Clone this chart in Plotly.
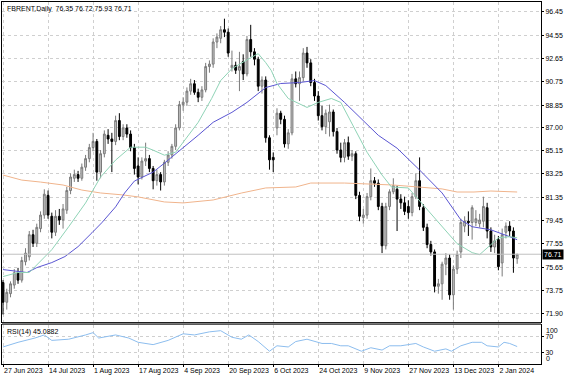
import plotly.graph_objects as go

# ---------------- data ----------------
date_tick_idx = [0, 12, 24, 36, 48, 60, 72, 84, 96, 108, 120, 132]
date_tick_text = ["27 Jun 2023", "14 Jul 2023", "1 Aug 2023", "17 Aug 2023", "4 Sep 2023",
                  "20 Sep 2023", "6 Oct 2023", "24 Oct 2023", "9 Nov 2023", "27 Nov 2023",
                  "13 Dec 2023", "2 Jan 2024"]

price_ticks = [96.45, 94.55, 92.65, 90.75, 88.85, 87.00, 85.15, 83.25, 81.35, 79.45,
               77.55, 75.65, 73.75, 71.90]

opens = [74.4, 72.8, 73.5, 74.2, 75.2, 74.6, 76.1, 76.5, 78.3, 77.6,
         78.8, 79.9, 81.5, 79.8, 78.5, 79.8, 79.5, 80.3, 81.9, 82.9,
         83.2, 82.9, 83.8, 84.5, 85.4, 85.9, 83.4, 84.9, 86.4, 86.1,
         85.9, 87.6, 86.3, 87.0, 86.5, 85.4, 83.9, 83.0, 84.3, 84.5,
         83.7, 82.7, 83.2, 82.6, 84.2, 84.8, 85.5, 87.0, 88.9, 89.1,
         90.0, 90.6, 89.9, 89.5, 90.1, 92.0, 92.2, 94.0, 94.3, 95.0,
         94.8, 91.9, 92.1, 91.7, 92.4, 91.4, 94.2, 93.2, 92.6, 90.4,
         90.9, 86.2, 84.6, 87.0, 88.2, 87.7, 85.7, 86.6, 91.0, 90.6,
         91.1, 93.1, 92.3, 90.7, 89.6, 88.0, 87.1, 87.5, 88.3, 86.7,
         85.2, 84.6, 85.8, 84.7, 84.9, 81.5, 79.7, 79.9, 81.4, 82.7,
         82.5, 80.6, 77.4, 80.6, 81.8, 82.0, 81.2, 80.9, 80.6, 80.1,
         81.4, 82.7, 80.5, 78.9, 77.5, 76.9, 74.1, 74.3, 75.9, 76.4,
         73.4, 75.5, 76.9, 79.0, 79.4, 79.3, 79.3, 79.2, 79.4, 80.5,
         78.6, 77.3, 77.9, 76.0, 78.5, 79.0, 78.6, 76.35]
highs = [74.6, 73.9, 74.5, 75.5, 75.6, 76.5, 77.2, 78.6, 78.7, 79.2,
         80.2, 82.0, 81.9, 80.1, 80.3, 80.4, 80.8, 82.2, 83.3, 83.6,
         83.5, 84.1, 84.8, 85.7, 86.6, 86.1, 85.2, 86.8, 86.9, 86.6,
         88.0, 88.2, 87.3, 87.3, 86.8, 85.7, 84.6, 84.6, 85.8, 84.8,
         83.9, 83.6, 83.4, 84.4, 85.1, 85.7, 87.3, 89.2, 89.5, 90.3,
         91.0, 90.9, 90.2, 90.4, 92.3, 92.5, 94.3, 94.7, 95.3, 95.9,
         95.1, 93.3, 92.4, 93.2, 93.0, 94.5, 95.4, 93.5, 92.8, 91.2,
         91.2, 86.4, 85.0, 88.6, 88.4, 88.0, 86.9, 91.4, 91.6, 91.6,
         93.5, 93.6, 92.6, 91.0, 90.0, 88.8, 88.5, 88.9, 88.5, 87.0,
         85.8, 86.1, 86.3, 85.2, 85.1, 81.8, 80.4, 81.7, 83.7, 83.0,
         82.8, 80.9, 80.9, 82.0, 82.9, 82.3, 81.6, 81.4, 81.1, 81.7,
         83.3, 84.6, 80.8, 79.2, 77.8, 77.1, 74.7, 76.1, 76.8, 76.7,
         75.8, 77.0, 79.6, 79.8, 80.2, 80.7, 80.3, 80.0, 81.4, 80.9,
         78.9, 78.3, 78.2, 78.8, 79.3, 79.4, 78.9, 76.72]
lows = [71.8, 72.2, 73.2, 73.9, 74.3, 74.4, 75.8, 76.2, 77.3, 77.3,
        78.5, 79.6, 79.6, 78.0, 78.2, 79.1, 78.8, 80.0, 81.6, 82.6,
        82.6, 82.7, 83.5, 84.2, 85.1, 82.7, 82.9, 84.6, 85.7, 83.4,
        85.6, 86.0, 86.0, 86.2, 85.1, 83.2, 82.4, 82.8, 83.9, 83.4,
        82.0, 82.3, 81.9, 82.3, 83.9, 84.5, 85.2, 86.8, 88.4, 88.8,
        89.7, 89.7, 89.1, 89.2, 89.9, 91.5, 91.9, 93.5, 93.9, 94.4,
        92.8, 91.6, 91.4, 90.0, 90.9, 91.2, 92.8, 92.1, 90.0, 89.8,
        85.8, 83.6, 83.4, 86.4, 87.3, 85.4, 85.3, 86.4, 90.3, 89.2,
        90.8, 91.9, 90.4, 89.2, 87.6, 86.8, 86.5, 86.3, 86.3, 84.9,
        84.2, 84.2, 84.4, 84.3, 81.2, 79.4, 79.2, 79.6, 81.1, 82.2,
        80.3, 76.8, 77.1, 80.3, 81.6, 78.6, 80.4, 79.9, 79.6, 79.8,
        81.2, 80.3, 78.6, 77.2, 76.6, 73.6, 73.5, 73.0, 75.0, 73.0,
        72.2, 75.1, 76.4, 78.5, 78.2, 77.9, 79.0, 78.9, 78.9, 78.0,
        76.9, 76.8, 75.4, 74.9, 78.0, 78.2, 75.2, 75.93]
closes = [72.8, 73.6, 74.3, 75.2, 74.6, 76.2, 76.8, 78.3, 77.6, 78.9,
          79.9, 81.6, 79.9, 78.5, 79.8, 79.5, 80.4, 81.9, 83.0, 83.2,
          82.9, 83.8, 84.5, 85.4, 85.9, 83.4, 84.9, 86.5, 86.1, 85.9,
          87.6, 86.3, 87.0, 86.5, 85.4, 83.7, 83.0, 84.3, 84.5, 83.7,
          82.7, 83.2, 82.6, 84.2, 84.8, 85.5, 87.0, 88.9, 89.1, 90.0,
          90.6, 89.9, 89.5, 90.1, 92.0, 92.2, 94.0, 94.4, 95.0, 94.8,
          93.1, 92.1, 91.7, 92.0, 91.4, 94.2, 93.2, 92.6, 90.4, 90.9,
          86.2, 84.4, 84.4, 88.2, 87.7, 85.7, 86.6, 91.0, 90.6, 91.1,
          93.1, 92.3, 90.7, 89.6, 88.0, 87.1, 88.2, 88.3, 86.7, 85.2,
          84.6, 85.8, 84.7, 84.9, 81.5, 79.8, 79.9, 81.4, 82.7, 82.5,
          80.6, 77.4, 80.6, 81.8, 82.3, 81.2, 80.9, 80.2, 80.1, 81.4,
          82.7, 80.6, 78.9, 77.5, 76.9, 74.1, 74.3, 75.9, 76.4, 73.4,
          75.5, 76.7, 79.3, 79.4, 79.3, 80.5, 79.6, 79.5, 80.6, 78.6,
          77.3, 77.8, 75.7, 78.3, 79.0, 78.6, 76.4, 76.71]

# moving averages (bar index, price)
ma_fast_idx = [0, 4, 7, 9.6, 13, 17.5, 22, 26, 30, 34, 38, 40, 43, 46, 48, 52, 55.6, 58, 61,
               63.6, 66, 68, 70, 71.5, 73, 76, 79, 81, 84, 87.5, 90, 93.6, 97, 101, 103.5,
               108, 112, 117, 121, 125, 127, 130, 132, 135, 137]
ma_fast_val = [74.89, 75.22, 75.22, 76.03, 77.08, 78.95, 80.89, 83.0, 84.38, 85.43, 85.43,
               85.19, 84.78, 85.02, 85.83, 87.45, 89.40, 90.86, 91.83, 92.32, 92.72, 93.05,
               92.32, 91.67, 90.62, 89.40, 88.99, 88.67, 89.08, 89.40, 89.08, 86.97, 85.02,
               83.16, 82.19, 82.11, 80.73, 78.95, 77.57, 76.84, 76.68, 77.49, 78.05, 78.14,
               78.05]
ma_slow_idx = [0, 6.4, 9, 13, 16.5, 20, 23.7, 26.3, 30, 32.4, 35, 40, 43, 48, 52, 56, 61,
               65, 70, 74, 79, 83, 86, 91, 95.5, 100, 105, 111, 117, 122, 125, 130, 135, 137]
ma_slow_val = [75.46, 75.22, 75.62, 76.03, 76.52, 77.33, 78.46, 79.27, 80.57, 81.70, 82.67,
               83.40, 84.13, 85.35, 86.40, 87.46, 88.27, 89.08, 90.29, 90.62, 90.70, 90.86,
               90.45, 89.08, 87.78, 86.40, 85.35, 83.57, 81.70, 79.51, 78.95, 78.70, 78.14,
               77.89]
ma_long_idx = [0, 5, 10, 16, 21, 26, 32, 36, 43, 48, 56, 63.6, 70, 78, 82, 91, 104, 110.6,
               117, 121, 125.5, 130, 137]
ma_long_val = [83.16, 82.75, 82.59, 82.35, 81.94, 81.70, 81.54, 81.38, 80.97, 80.89, 81.13,
               81.70, 82.11, 82.19, 82.51, 82.51, 82.35, 82.19, 82.03, 81.78, 81.78, 81.86,
               81.78]

rsi_idx = [0, 4, 8.5, 11, 13, 17.5, 22, 24, 25.5, 30, 33.5, 36, 40, 44, 48, 51, 55, 58, 61,
           63.5, 65.5, 68, 71, 73, 76, 78, 81, 83, 85, 87.5, 90, 92, 95.5, 98, 101, 103, 106,
           110, 112, 115, 118, 119.5, 122, 125, 127.5, 129, 132, 133.5, 135, 137]
rsi_val = [44, 56, 67, 75, 61, 64, 75, 81, 67, 75, 67, 56, 50, 61, 78, 75, 83, 86, 69, 64,
           75, 58, 33, 47, 44, 58, 64, 58, 53, 53, 47, 47, 33, 42, 36, 47, 47, 53, 44, 33,
           39, 33, 47, 56, 56, 47, 44, 56, 53, 45.09]

last_price = closes[-1]
title_text = "FBRENT,Daily&nbsp;&nbsp;76.35 76.72 75.93 76.71"
rsi_text = "RSI(14) 45.0882"

# ---------------- figure ----------------
FONT = "Liberation Sans"
GRID = "#cfcfcf"
x = list(range(len(closes)))

fig = go.Figure()
fig.add_trace(go.Scatter(x=ma_long_idx, y=ma_long_val, mode="lines",
                         line=dict(color="#f0b48c", width=1), hoverinfo="skip", showlegend=False))
fig.add_trace(go.Scatter(x=ma_slow_idx, y=ma_slow_val, mode="lines",
                         line=dict(color="#5a55d2", width=1), hoverinfo="skip", showlegend=False))
fig.add_trace(go.Scatter(x=ma_fast_idx, y=ma_fast_val, mode="lines",
                         line=dict(color="#8fd3b6", width=1), hoverinfo="skip", showlegend=False))
fig.add_trace(go.Candlestick(
    x=x, open=opens, high=highs, low=lows, close=closes,
    increasing=dict(line=dict(color="#7a7a7a", width=1), fillcolor="#c4c4c4"),
    decreasing=dict(line=dict(color="#000000", width=1), fillcolor="#000000"),
    whiskerwidth=0, hoverinfo="skip", showlegend=False))
fig.add_trace(go.Scatter(x=rsi_idx, y=rsi_val, mode="lines", xaxis="x2", yaxis="y2",
                         line=dict(color="#8cbdee", width=1), hoverinfo="skip", showlegend=False))

main_dom = [0.1154, 1.0]
rsi_dom = [0.0, 0.107]
xr = [-0.27, 143.35]

fig.update_layout(
    width=564, height=376,
    margin=dict(l=1, r=23, t=1, b=11),
    paper_bgcolor="white", plot_bgcolor="white",
    font=dict(family=FONT, size=7, color="#000000"),
    xaxis=dict(domain=[0, 1], range=xr, anchor="y", tickvals=date_tick_idx,
               showticklabels=False, showgrid=True, gridcolor=GRID, griddash="dot",
               gridwidth=1, zeroline=False, rangeslider=dict(visible=False),
               showline=True, linecolor="#000000", mirror=True, ticks=""),
    yaxis=dict(domain=main_dom, range=[71.17, 97.26], side="right", tickvals=price_ticks,
               ticktext=[f"{v:.2f}" for v in price_ticks], showgrid=True, gridcolor=GRID,
               griddash="dot", zeroline=False, ticks="outside", ticklen=2,
               tickcolor="#000000", showline=True, linecolor="#000000", mirror=True,
               tickfont=dict(family=FONT, size=7)),
    xaxis2=dict(domain=[0, 1], range=xr, anchor="y2", matches="x", tickvals=date_tick_idx,
                ticktext=date_tick_text, ticklabelposition="outside right", tickangle=0,
                ticks="outside", ticklen=2, tickcolor="#000000", showgrid=True,
                gridcolor=GRID, griddash="dot", zeroline=False, showline=True,
                linecolor="#000000", mirror=True, tickfont=dict(family=FONT, size=7)),
    yaxis2=dict(domain=rsi_dom, range=[0, 100], side="right", tickvals=[30, 70],
                ticktext=["30", "70"], showgrid=True, gridcolor=GRID, griddash="dot",
                zeroline=False, ticks="outside", ticklen=2, tickcolor="#000000",
                showline=True, linecolor="#000000", mirror=True,
                tickfont=dict(family=FONT, size=7)),
    shapes=[
        dict(type="line", xref="paper", yref="y", x0=0, x1=1, y0=last_price, y1=last_price,
             line=dict(color="#c0c0c0", width=1)),
        dict(type="line", xref="paper", yref="paper", x0=0, x1=1, y0=0.1113, y1=0.1113,
             line=dict(color="#7a7a7a", width=2)),
    ],
    annotations=[
        dict(xref="paper", yref="paper", x=0, y=1, xanchor="left", yanchor="top",
             xshift=3, yshift=-1, text=title_text, showarrow=False,
             font=dict(family=FONT, size=7, color="#000000")),
        dict(xref="paper", yref="paper", x=0, y=rsi_dom[1], xanchor="left", yanchor="top",
             xshift=3, yshift=-1, text=rsi_text, showarrow=False,
             font=dict(family=FONT, size=7, color="#000000")),
        dict(xref="paper", yref="y", x=1, y=last_price, xanchor="left", yanchor="middle",
             xshift=1, text=f"{last_price:.2f}", showarrow=False, bgcolor="#000000",
             borderpad=1, font=dict(family=FONT, size=7, color="#ffffff")),
        dict(xref="paper", yref="y2", x=1, y=100, xanchor="left", yanchor="top", xshift=3,
             text="100", showarrow=False, font=dict(family=FONT, size=7, color="#000000")),
        dict(xref="paper", yref="y2", x=1, y=0, xanchor="left", yanchor="bottom", xshift=3,
             text="0", showarrow=False, font=dict(family=FONT, size=7, color="#000000")),
    ],
)

fig.write_html("out.html", config={"displayModeBar": False},
               post_script="document.body.style.margin='0';")
